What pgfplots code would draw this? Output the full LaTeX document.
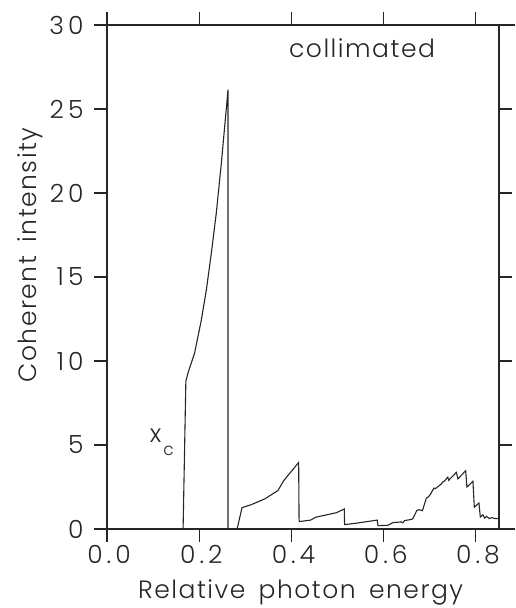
\documentclass[border=0pt]{standalone}
\usepackage{fontspec}
\setmainfont{Poppins}[UprightFont={* Light}, LetterSpace=6, WordSpace=1.6]
\newfontfamily\tickfont{Poppins}[UprightFont={* Light}, LetterSpace=16]
\usepackage{pgfplots}
\pgfplotsset{compat=1.18}
\begin{document}
\begin{tikzpicture}[x=1pt,y=1pt]
\begin{axis}[
  at={(0pt,0pt)}, anchor=origin,
  scale only axis, width=392pt, height=504pt,
  xmin=0, xmax=0.85, ymin=0, ymax=30,
  axis line style={line width=1.1pt, black!85},
  tick style={line width=1.1pt, black!85},
  tick align=outside, major tick length=13pt,
  xtick pos=both, ytick pos=both,
  xticklabel pos=lower, yticklabel pos=left,
  xtick={0,0.2,0.4,0.6,0.8}, xticklabels={0.0,0.2,0.4,0.6,0.8},
  ytick={0,5,10,15,20,25,30}, yticklabels={0,5,10,15,20,25,30},
  ticklabel style={font=\tickfont\fontsize{25}{30}\selectfont, black!85},
  xticklabel style={xshift=2pt},
  yticklabel style={xshift=-7pt},
  xlabel={Relative photon energy},
  ylabel={Coherent intensity},
  label style={font=\fontsize{25}{30}\selectfont, black!85},
  xlabel style={at={(axis description cs:0.494,-0.137)}, anchor=base},
  ylabel style={at={(axis description cs:-0.1786,0.5437)}, anchor=base},
  clip=false,
]
\addplot[line width=1.1pt, black!85] coordinates {
(0,0) (0.165,0) (0.171,8.79) (0.1757,9.29) (0.190,10.48) (0.2047,12.46)
(0.2155,14.24) (0.2263,16.43) (0.237,18.81) (0.248,21.79) (0.2552,23.96)
(0.2624,26.15) (0.2624,0) (0.2822,0) (0.2927,1.27) (0.313,1.45) (0.342,1.79)
(0.3707,2.29) (0.3835,2.89) (0.4156,3.96) (0.4165,0.44) (0.4416,0.53)
(0.4525,0.70) (0.4973,0.97) (0.5145,1.19) (0.5152,0.26) (0.544,0.36)
(0.586,0.53) (0.5876,0.2) (0.609,0.22) (0.620,0.38) (0.638,0.42)
(0.6418,0.37) (0.645,0.5) (0.656,0.55) (0.663,0.60) (0.672,1.11)
(0.677,1.15) (0.684,1.09) (0.6925,1.84) (0.697,1.92) (0.701,2.05)
(0.709,2.44) (0.712,2.40) (0.725,2.68) (0.728,2.80) (0.732,2.86)
(0.739,3.09) (0.741,2.90) (0.7575,3.37) (0.761,2.98) (0.7777,3.47)
(0.7805,2.50) (0.7935,2.84) (0.7965,1.29) (0.8065,1.55) (0.8095,0.71)
(0.815,0.85) (0.819,0.65) (0.823,0.75) (0.829,0.62) (0.835,0.68)
(0.840,0.63) (0.85,0.61)
};
\node[anchor=base, inner sep=0pt, font=\fontsize{25}{30}\selectfont, black!85] at (axis cs:0.553,28.04) {collimated};
\node[anchor=base west, inner sep=0pt, font=\fontsize{25}{30}\selectfont, black!85] at (axis cs:0.0926,5.12) {x\kern2pt\raisebox{-13pt}{\fontsize{17}{20}\selectfont c}};
\draw[line width=1.1pt, black!85] (rel axis cs:1,0) -- ++(16pt,0);
\draw[line width=1.1pt, black!85] (rel axis cs:1,1) -- ++(16pt,0);
\end{axis}
\pgfresetboundingbox
\useasboundingbox (-107pt,-79pt) rectangle (408pt,529pt);
\end{tikzpicture}
\end{document}
